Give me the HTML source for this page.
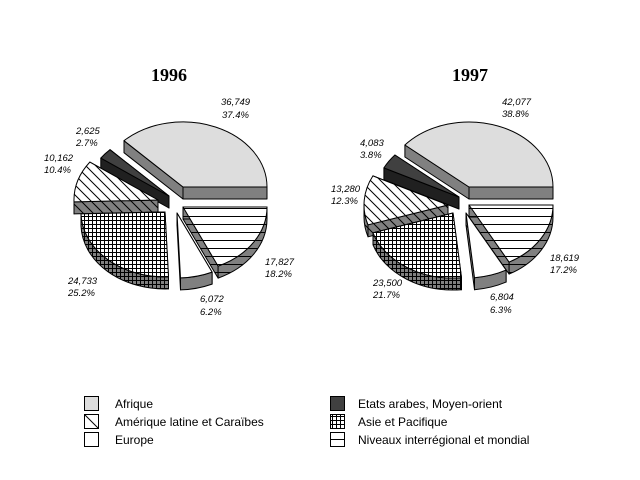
<!DOCTYPE html>
<html><head><meta charset="utf-8"><style>
html,body{margin:0;padding:0;background:#fff;}
svg{display:block;}
text{font-family:"Liberation Sans",Arial,sans-serif;}
.l{font-size:9.5px;font-style:italic;}
.t{font-family:"Liberation Serif",serif;font-size:18px;font-weight:bold;}
.g{font-size:12px;}
</style></head><body>
<svg id="s" width="640" height="480" xmlns="http://www.w3.org/2000/svg">
<defs>
<pattern id="diag" patternUnits="userSpaceOnUse" width="10" height="10"><rect width="10" height="10" fill="#fff"/><path d="M-1,-1 L11,11 M-6,4 L6,16 M4,-6 L16,6" stroke="#000" stroke-width="1"/></pattern>
<pattern id="diagS" patternUnits="userSpaceOnUse" width="10" height="10"><rect width="10" height="10" fill="#808080"/><path d="M-1,-1 L11,11 M-6,4 L6,16 M4,-6 L16,6" stroke="#000" stroke-width="1"/></pattern>
<pattern id="grid" patternUnits="userSpaceOnUse" width="4" height="4"><rect width="4" height="4" fill="#fff"/><path d="M0,0.5 H4 M0.5,0 V4" stroke="#000" stroke-width="1"/></pattern>
<pattern id="gridS" patternUnits="userSpaceOnUse" width="4" height="4"><rect width="4" height="4" fill="#808080"/><path d="M0,0.5 H4 M0.5,0 V4" stroke="#000" stroke-width="1"/></pattern>
<pattern id="hor" patternUnits="userSpaceOnUse" width="8" height="8"><rect width="8" height="8" fill="#fff"/><path d="M0,0.5 H8" stroke="#000" stroke-width="1"/></pattern>
<pattern id="horS" patternUnits="userSpaceOnUse" width="8" height="8"><rect width="8" height="8" fill="#808080"/><path d="M0,0.5 H8" stroke="#000" stroke-width="1"/></pattern>
</defs>
<g id="pies"></g>
<text class="t" x="151" y="81">1996</text>
<text class="t" x="452" y="81">1997</text>
<g class="l">
<text x="221" y="105">36,749</text><text x="222" y="118">37.4%</text>
<text x="76" y="134">2,625</text><text x="76" y="146">2.7%</text>
<text x="44" y="161">10,162</text><text x="44" y="173">10.4%</text>
<text x="265" y="265">17,827</text><text x="265" y="277">18.2%</text>
<text x="68" y="284">24,733</text><text x="68" y="296">25.2%</text>
<text x="200" y="302">6,072</text><text x="200" y="315">6.2%</text>
<text x="502" y="105">42,077</text><text x="502" y="117">38.8%</text>
<text x="360" y="146">4,083</text><text x="360" y="158">3.8%</text>
<text x="331" y="192">13,280</text><text x="331" y="204">12.3%</text>
<text x="550" y="261">18,619</text><text x="550" y="273">17.2%</text>
<text x="373" y="286">23,500</text><text x="373" y="298">21.7%</text>
<text x="490" y="300">6,804</text><text x="490" y="313">6.3%</text>
</g>
<g stroke="#000" stroke-width="1">
<rect x="84.5" y="396.5" width="14" height="14" fill="#ddd"/>
<rect x="84.5" y="414.5" width="14" height="14" fill="#fff"/><path d="M84.5,414.5 L98.5,428.5"/>
<rect x="84.5" y="432.5" width="14" height="14" fill="#fff"/>
<rect x="330.5" y="396.5" width="14" height="14" fill="#404040"/>
<rect x="330.5" y="414.5" width="14" height="14" fill="url(#grid)"/>
<rect x="330.5" y="432.5" width="14" height="14" fill="#fff"/><path d="M330.5,439.5 H344.5"/>
</g>
<g class="g">
<text x="115" y="408">Afrique</text>
<text x="115" y="426">Amérique latine et Caraïbes</text>
<text x="115" y="444">Europe</text>
<text x="358" y="408">Etats arabes, Moyen-orient</text>
<text x="358" y="426">Asie et Pacifique</text>
<text x="358" y="444">Niveaux interrégional et mondial</text>
</g>
</svg>
<script>
var g=document.getElementById('pies'),NS='http://www.w3.org/2000/svg';
var RX=84,RY=65,D=12;
function P(c,a){var r=a*Math.PI/180;return [c[0]+RX*Math.cos(r),c[1]-RY*Math.sin(r)];}
function path(d,f){var e=document.createElementNS(NS,'path');e.setAttribute('d',d);e.setAttribute('fill',f);e.setAttribute('stroke','#000');e.setAttribute('stroke-width','1');e.setAttribute('stroke-linejoin','round');g.appendChild(e);}
function f(p){return p[0].toFixed(1)+','+p[1].toFixed(1);}
function slice(c,a0,a1,top,side){
 [a0,a1].forEach(function(a){var p=P(c,a);
  path('M'+f(c)+' L'+f(p)+' L'+f([p[0],p[1]+D])+' L'+f([c[0],c[1]+D])+'Z',side);});
 var lo=Math.max(a0,180),hi=Math.min(a1,360);
 if(hi>lo){var p=P(c,lo),q=P(c,hi),lg=(hi-lo)>180?1:0;
  path('M'+f(p)+' A'+RX+','+RY+' 0 '+lg+' 0 '+f(q)+' L'+f([q[0],q[1]+D])+' A'+RX+','+RY+' 0 '+lg+' 1 '+f([p[0],p[1]+D])+'Z',side);}
 var p=P(c,a0),q=P(c,a1),lg=(a1-a0)>180?1:0;
 path('M'+f(c)+' L'+f(p)+' A'+RX+','+RY+' 0 '+lg+' 0 '+f(q)+'Z',top);
}
function pie(cs,cuts){
 var st=[['#ddd','#808080'],['#404040','#202020'],['url(#diag)','url(#diagS)'],['url(#grid)','url(#gridS)'],['#fff','#808080'],['url(#hor)','url(#horS)']];
 var order=[0,1,2,5,3,4];
 order.forEach(function(i){slice(cs[i],cuts[i],cuts[i+1],st[i][0],st[i][1]);});
}
pie([[183,187],[169,196],[158,200],[165,212],[177,213],[183,207]],[0,134.6,144.3,181.7,272.4,294.7,360]);
pie([[469,187],[459,197],[448,205],[453,213],[466,213],[469,205]],[0,139.7,153.4,197.7,275.8,298.5,360]);
</script>
</body></html>
